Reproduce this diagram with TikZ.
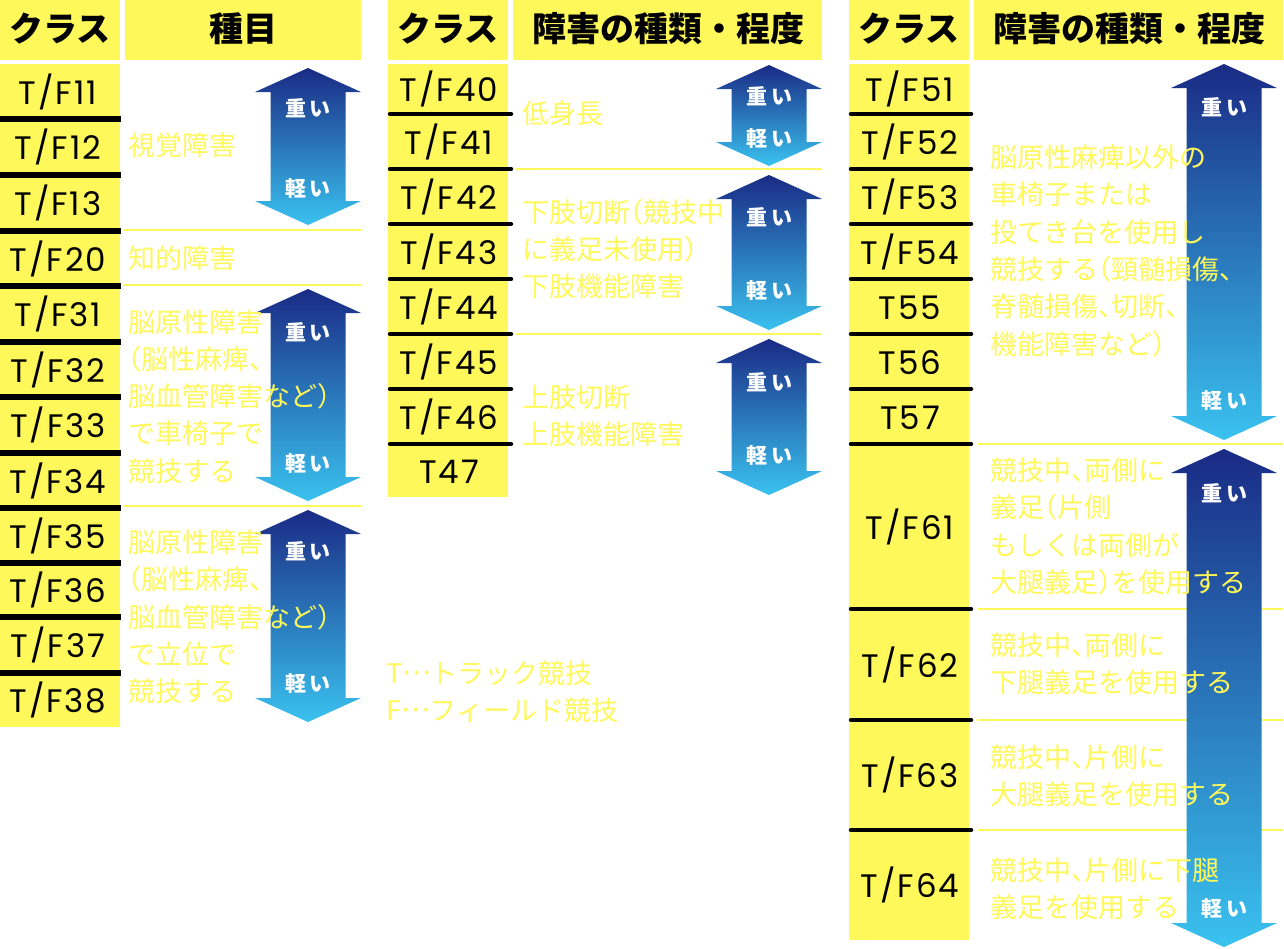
\documentclass[tikz,border=0pt]{standalone}
\usepackage{fontspec}
\newfontfamily\jp{Noto Sans CJK JP}
\newfontfamily\jpt[RawFeature={+halt}]{Noto Sans CJK JP}
\newfontfamily\clsfont[LetterSpace=6]{Poppins}
\definecolor{yel}{HTML}{FFF85A}
\definecolor{atop}{HTML}{1A2B85}
\definecolor{abot}{HTML}{3AC2EF}
\newcommand\gradarrow[4]{%
  \shade[top color=atop, bottom color=abot]
    (#1,#3+24) -- ({(#1+#2)/2},#3) -- (#2,#3+24) -- (#2-15.5,#3+24)
    -- (#2-15.5,#4-24) -- (#2,#4-24) -- ({(#1+#2)/2},#4) -- (#1,#4-24)
    -- (#1+15.5,#4-24) -- (#1+15.5,#3+24) -- cycle;}
\newcommand\mymdots{\raisebox{0.33em}{…}}
\begin{document}
\begin{tikzpicture}[x=1pt,y=-1pt,
  sepA/.style={line width=5.5pt},
  sepB/.style={line width=4.5pt, line cap=round},
  rule/.style={draw=yel, line width=2pt},
  hdr/.style={font=\jp\bfseries\fontsize{34}{40}\selectfont, anchor=base, inner sep=0},
  clsl/.style={font=\clsfont\fontsize{32.5}{38}\selectfont, anchor=base, inner sep=0},
  jt/.style={font=\jpt\fontsize{27}{37.3}\selectfont, text=yel, align=left, anchor=north west, inner sep=0},
  lvl/.style={font=\jp\bfseries\fontsize{21}{25}\selectfont, text=white, anchor=base, inner sep=0},
]
\useasboundingbox (0,0) rectangle (1284,948);
\fill[white] (0,0) rectangle (1284,948);

% header boxes
\fill[yel] (0,0) rectangle (120,60);
\fill[yel] (125,0) rectangle (361,60);
\fill[yel] (388,0) rectangle (508,60);
\fill[yel] (513,0) rectangle (822,60);
\fill[yel] (849,0) rectangle (969,60);
\fill[yel] (974,0) rectangle (1283,60);
\node[hdr] (h1) at (60,41) {クラス};
\node[hdr] (h2) at (243,41) {種目};
\node[hdr] (h3) at (448,41) {クラス};
\node[hdr] (h4) at (668.5,41) {障害の種類・程度};
\node[hdr] (h5) at (909,41) {クラス};
\node[hdr] (h6) at (1129.5,41) {障害の種類・程度};

% class columns
\fill[yel] (0,64) rectangle (120,727);
\fill[yel] (388,64) rectangle (508,497);
\fill[yel] (849,64) rectangle (969,940);

% thin yellow rules
\foreach \y in {230,285,506} \draw[rule] (123,\y) -- (361,\y);
\foreach \y in {169,334} \draw[rule] (516,\y) -- (822,\y);
\foreach \y in {444,609,720,830} \draw[rule] (978,\y) -- (1283,\y);

% arrows
\gradarrow{255}{361}{68}{225}
\gradarrow{255}{361}{289}{501}
\gradarrow{255}{361}{510}{722}
\gradarrow{716}{822}{65}{166}
\gradarrow{716}{822}{175}{330}
\gradarrow{716}{822}{339}{495}
\gradarrow{1171}{1277}{64}{440}
\gradarrow{1171}{1277}{449}{947}

\newcommand\hv{重\hspace{4pt}い}
\newcommand\lt{軽\hspace{4pt}い}
\node[lvl] (a1h) at (308,116) {\hv};
\node[lvl] (a1l) at (308,196) {\lt};
\node[lvl] (a2h) at (308,340) {\hv};
\node[lvl] (a2l) at (308,471) {\lt};
\node[lvl] (a3h) at (308,559) {\hv};
\node[lvl] (a3l) at (308,691) {\lt};
\node[lvl] (b1h) at (769,104) {\hv};
\node[lvl] (b1l) at (769,146) {\lt};
\node[lvl] (b2h) at (769,225) {\hv};
\node[lvl] (b2l) at (769,298) {\lt};
\node[lvl] (b3h) at (769,390) {\hv};
\node[lvl] (b3l) at (769,463) {\lt};
\node[lvl] (c1h) at (1224,115) {\hv};
\node[lvl] (c1l) at (1224,408) {\lt};
\node[lvl] (c2h) at (1224,501) {\hv};
\node[lvl] (c2l) at (1224,916) {\lt};

% separators
\foreach \y in {119,175,231,286,342,397,453,508,563,617,673}
  \draw[sepA] (0,\y) -- (121,\y);
\foreach \y in {114,169,224,279,334,389,444}
  \draw[sepB] (390,\y) -- (511,\y);
\foreach \y in {114,169,224,279,334,389,444,609,720,830}
  \draw[sepB] (851,\y) -- (971,\y);

% class labels
\foreach \t/\y [count=\i] in {{T/F11}/91.5,{T/F12}/147,{T/F13}/203,{T/F20}/258.5,{T/F31}/314,{T/F32}/369.5,{T/F33}/425,{T/F34}/480.5,{T/F35}/535.5,{T/F36}/590,{T/F37}/645,{T/F38}/700}
  \node[clsl] (ca\i) at (58,\y+12.5) {\t};
\foreach \t/\y [count=\i] in {{T/F40}/89,{T/F41}/141.5,{T/F42}/196.5,{T/F43}/251.5,{T/F44}/306.5,{T/F45}/361.5,{T/F46}/416.5,{T47}/470.5}
  \node[clsl] (cb\i) at (449,\y+12.5) {\t};
\foreach \t/\y [count=\i] in {{T/F51}/89,{T/F52}/141.5,{T/F53}/196.5,{T/F54}/251.5,{T55}/306.5,{T56}/361.5,{T57}/416.5,{T/F61}/526.5,{T/F62}/664.5,{T/F63}/775,{T/F64}/885}
  \node[clsl] (cc\i) at (910,\y+12.5) {\t};

% descriptions
\node[jt] (d1) at (128,145-15.8) {\strut 視覚障害};
\node[jt] (d2) at (128,258-15.8) {\strut 知的障害};
\node[jt] (d3) at (128,321.5-15.8) {\strut 脳原性障害\\\strut （脳性麻痺、\\\strut 脳血管障害など）\\\strut で車椅子で\\\strut 競技する};
\node[jt] (d4) at (128,542-15.8) {\strut 脳原性障害\\\strut （脳性麻痺、\\\strut 脳血管障害など）\\\strut で立位で\\\strut 競技する};
\node[jt] (e1) at (522,113-15.8) {\strut 低身長};
\node[jt] (e2) at (522,211.5-15.8) {\strut 下肢切断（競技中\\\strut に義足未使用）\\\strut 下肢機能障害};
\node[jt] (e3) at (522,396.5-15.8) {\strut 上肢切断\\\strut 上肢機能障害};
\node[jt] (e4) at (386,673-15.8) {\strut T\mymdots トラック競技\\\strut F\mymdots フィールド競技};
\node[jt] (f1) at (990,157-15.8) {\strut 脳原性麻痺以外の\\\strut 車椅子または\\\strut 投てき台を使用し\\\strut 競技する（頸髄損傷、\\\strut 脊髄損傷、切断、\\\strut 機能障害など）};
\node[jt] (f2) at (990,470-15.8) {\strut 競技中、両側に\\\strut 義足（片側\\\strut もしくは両側が\\\strut 大腿義足）を使用する};
\node[jt] (f3) at (990,645-15.8) {\strut 競技中、両側に\\\strut 下腿義足を使用する};
\node[jt] (f4) at (990,757-15.8) {\strut 競技中、片側に\\\strut 大腿義足を使用する};
\node[jt] (f5) at (990,870-15.8) {\strut 競技中、片側に下腿\\\strut 義足を使用する};
\end{tikzpicture}
\end{document}
